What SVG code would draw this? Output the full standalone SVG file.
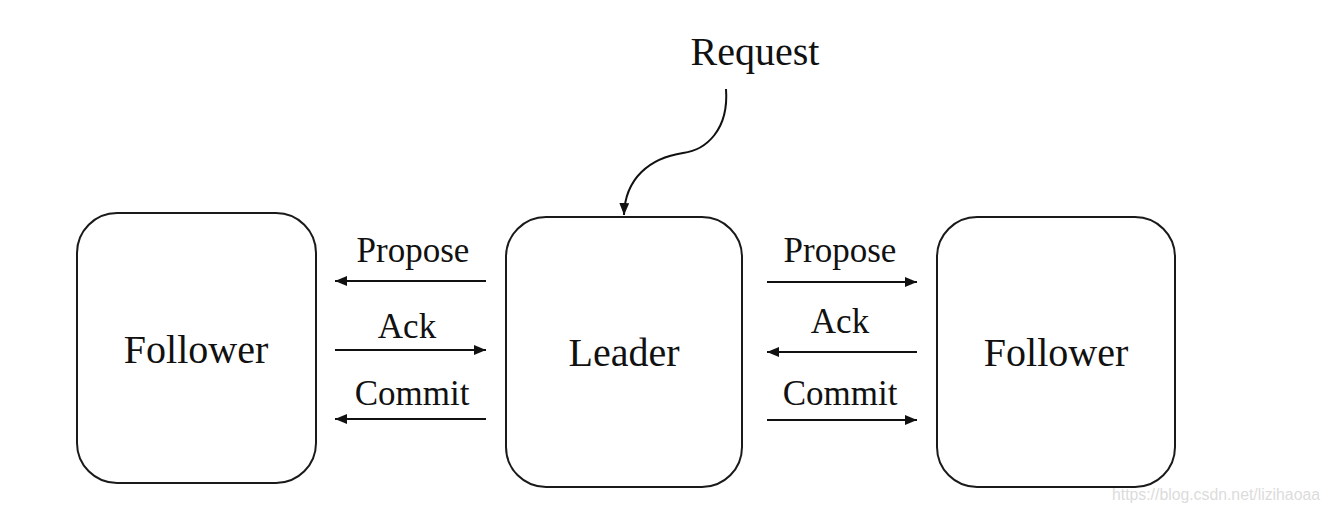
<svg xmlns="http://www.w3.org/2000/svg" width="1330" height="511" viewBox="0 0 1330 511">
<style>
.box{fill:#fff;stroke:#1a1a1a;stroke-width:2}
.lbl{font-family:"Liberation Serif","Times New Roman",serif;fill:#111;text-anchor:middle}
.big{font-size:40px}
.sm{font-size:35px}
.ln{stroke:#111;stroke-width:2;fill:none}
.wm{font-family:"Liberation Sans",Arial,sans-serif;font-size:16px;fill:#dcdcdc}
</style>
<defs>
<marker id="ah" viewBox="0 0 12 10" refX="12" refY="5" markerWidth="12" markerHeight="10" markerUnits="userSpaceOnUse" orient="auto">
<path d="M0,0 L12,5 L0,10 Z" fill="#111"/>
</marker>
</defs>
<rect width="1330" height="511" fill="#fff"/>
<g id="follower-left">
<rect class="box" x="77" y="213" width="239" height="270" rx="40" ry="40"/>
<text class="lbl big" x="196" y="363">Follower</text>
</g>
<g id="leader">
<rect class="box" x="506" y="217" width="236" height="270" rx="40" ry="40"/>
<text class="lbl big" x="624" y="366">Leader</text>
</g>
<g id="follower-right">
<rect class="box" x="937" y="217" width="238" height="270" rx="40" ry="40"/>
<text class="lbl big" x="1056" y="366">Follower</text>
</g>
<g id="request">
<text class="lbl big" x="755" y="65">Request</text>
</g>
<g id="connectors">
<path class="ln" d="M726,89 C729,130 706,150 683,153 C650,158 625,178 624,215" marker-end="url(#ah)"/>
<line class="ln" x1="486" y1="281" x2="335" y2="281" marker-end="url(#ah)"/>
<line class="ln" x1="335" y1="350" x2="486" y2="350" marker-end="url(#ah)"/>
<line class="ln" x1="486" y1="419" x2="335" y2="419" marker-end="url(#ah)"/>
<line class="ln" x1="767" y1="282" x2="917" y2="282" marker-end="url(#ah)"/>
<line class="ln" x1="917" y1="352" x2="767" y2="352" marker-end="url(#ah)"/>
<line class="ln" x1="767" y1="420" x2="917" y2="420" marker-end="url(#ah)"/>
<text class="lbl sm" x="413" y="262">Propose</text>
<text class="lbl sm" x="407" y="338">Ack</text>
<text class="lbl sm" x="412" y="405">Commit</text>
<text class="lbl sm" x="840" y="262">Propose</text>
<text class="lbl sm" x="840" y="333">Ack</text>
<text class="lbl sm" x="840" y="405">Commit</text>
</g>
<text class="wm" x="1112" y="500" textLength="208" lengthAdjust="spacingAndGlyphs">https://blog.csdn.net/lizihaoaa</text>
</svg>
